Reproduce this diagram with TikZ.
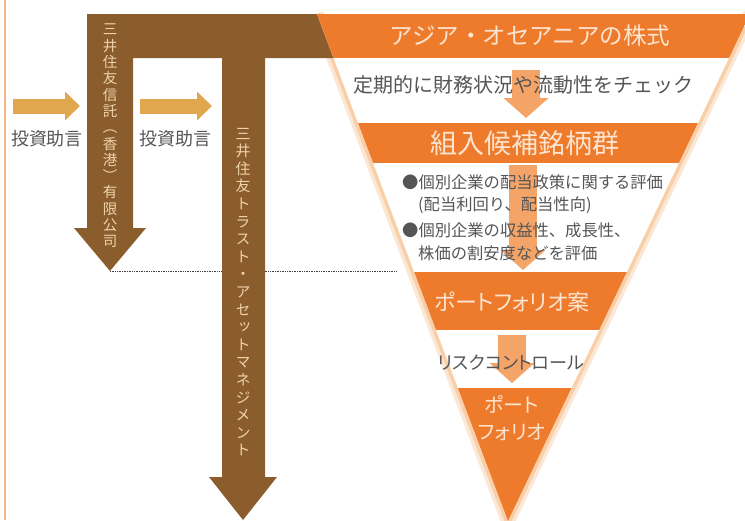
\documentclass[tikz,border=0pt]{standalone}
\usepackage{fontspec}
\setmainfont{Noto Sans CJK JP}
\newfontfamily\propjp[RawFeature=+palt]{Noto Sans CJK JP}
\newfontfamily\tatejp[RawFeature=+vert]{Noto Sans CJK JP}
\usetikzlibrary{arrows.meta}
\definecolor{bandOrange}{HTML}{EE7B2C}
\definecolor{softOrange}{HTML}{F5A468}
\definecolor{glowOrange}{HTML}{F9CFA9}
\definecolor{trustBrown}{HTML}{8C5D2C}
\definecolor{adviceTan}{HTML}{E0A74F}
\definecolor{noteGray}{HTML}{555555}
\definecolor{peachText}{HTML}{FDE4D0}
\definecolor{tanText}{HTML}{EDD3AC}
\tikzstyle{flowArrow} = [line width=28pt, draw=softOrange, -{Triangle[width=44pt,length=20pt]}]
\tikzstyle{adviceArrow} = [line width=15pt, draw=adviceTan, -{Triangle[width=28pt,length=15pt]}]
\tikzstyle{bandText}=[text=peachText]
\tikzstyle{tateText}=[text=tanText, align=center, font=\tatejp\fontsize{14.5}{16.3}\selectfont]

\begin{document}
\begin{tikzpicture}[x=1pt, y=-1pt, every node/.style={inner sep=0pt},
    noteText/.style={text=noteGray, anchor=west, font=\fontsize{16.3}{20}\selectfont}]
        \useasboundingbox (0,0) rectangle (745,520);
        \coordinate (TL) at (317,14);
        \coordinate (TR) at (750,14);
        \coordinate (apex) at (508,521);

        \draw[softOrange!80, line width=1.2pt] (5,0) -- (5,520);

        % dotted guide from the tip of the Hong Kong arrow
        \coordinate (hkTip) at (110,271);
        \coordinate (dotEnd) at (397,271);
        \draw[black!75, densely dotted, line width=0.7pt] (hkTip) -- (dotEnd);

        % glow round the funnel
        \draw[glowOrange!50, line width=14pt, line join=round] (TL) -- (apex) -- (TR);
        \draw[glowOrange, line width=7pt, line join=round] (TL) -- (apex) -- (TR);

        % brown T with its two arrows
        \fill[trustBrown] (87,14) -- (340,14) -- (340,58) -- (265,58) -- (265,477) -- (277,477)
            -- (243,520) -- (209,477) -- (222,477) -- (222,58) -- (133,58) -- (133,228)
            -- (146,228) -- (hkTip) -- (74,228) -- (87,228) -- cycle;

        \fill[white] (TL) -- (TR) -- (apex) -- cycle;
        \begin{scope}
            \clip (TL) -- (TR) -- (apex) -- cycle;
            \fill[bandOrange] (300,14) rectangle (760,58);
            \fill[bandOrange] (300,123) rectangle (760,163);
            \fill[bandOrange] (300,272) rectangle (760,330);
            \fill[bandOrange] (300,388) rectangle (760,530);
        \end{scope}

        \coordinate (f1) at (526,70);
        \coordinate (f2) at (526,118);
        \coordinate (f3) at (523,165);
        \coordinate (f4) at (523,270);
        \coordinate (f5) at (512,335);
        \coordinate (f6) at (512,383);
        \draw[flowArrow] (f1) -- (f2);
        \draw[flowArrow] (f3) -- (f4);
        \draw[flowArrow] (f5) -- (f6);

        \coordinate (a1) at (13,106);
        \coordinate (a2) at (80,106);
        \coordinate (a3) at (140,106);
        \coordinate (a4) at (212,106);
        \draw[adviceArrow] (a1) -- (a2);
        \draw[adviceArrow] (a3) -- (a4);

        \node[text=noteGray, font=\fontsize{18}{20}\selectfont] (adv1) at (47,139) {投資助言};
        \node[text=noteGray, font=\fontsize{18}{20}\selectfont] (adv2) at (175,139) {投資助言};

        \node[tateText] (hk) at (110,136) {三\\井\\住\\友\\信\\託\\（\\香\\港\\）\\有\\限\\公\\司};
        \node[tateText, font=\tatejp\fontsize{15}{17.6}\selectfont] (tam) at (243,292) {三\\井\\住\\友\\ト\\ラ\\ス\\ト\\・\\ア\\セ\\ッ\\ト\\マ\\ネ\\ジ\\メ\\ン\\ト};

        \node[bandText, font=\fontsize{23.5}{26}\selectfont] (b1) at (530,36) {アジア・オセアニアの株式};
        \node[text=noteGray, font=\fontsize{20}{22}\selectfont] (chk) at (523,85) {定期的に財務状況や流動性をチェック};
        \node[bandText, font=\fontsize{27}{30}\selectfont] (b2) at (525,143) {組入候補銘柄群};

        \node[noteText] (n1) at (402,182) {●個別企業の配当政策に関する評価};
        \node[noteText] (n2) at (418,205) {(配当利回り、配当性向)};
        \node[noteText] (n3) at (402,230) {●個別企業の収益性、成長性、};
        \node[noteText] (n4) at (418,253) {株価の割安度などを評価};

        \node[bandText, font=\propjp\fontsize{22}{24}\selectfont] (b3) at (512,302) {ポートフォリオ案};
        \node[text=noteGray, font=\propjp\fontsize{18}{20}\selectfont] (risk) at (511,363) {リスクコントロール};
        \node[bandText, align=center, font=\propjp\fontsize{20}{27}\selectfont] (b4) at (512,418) {ポート\\フォリオ};
\end{tikzpicture}
\end{document}
